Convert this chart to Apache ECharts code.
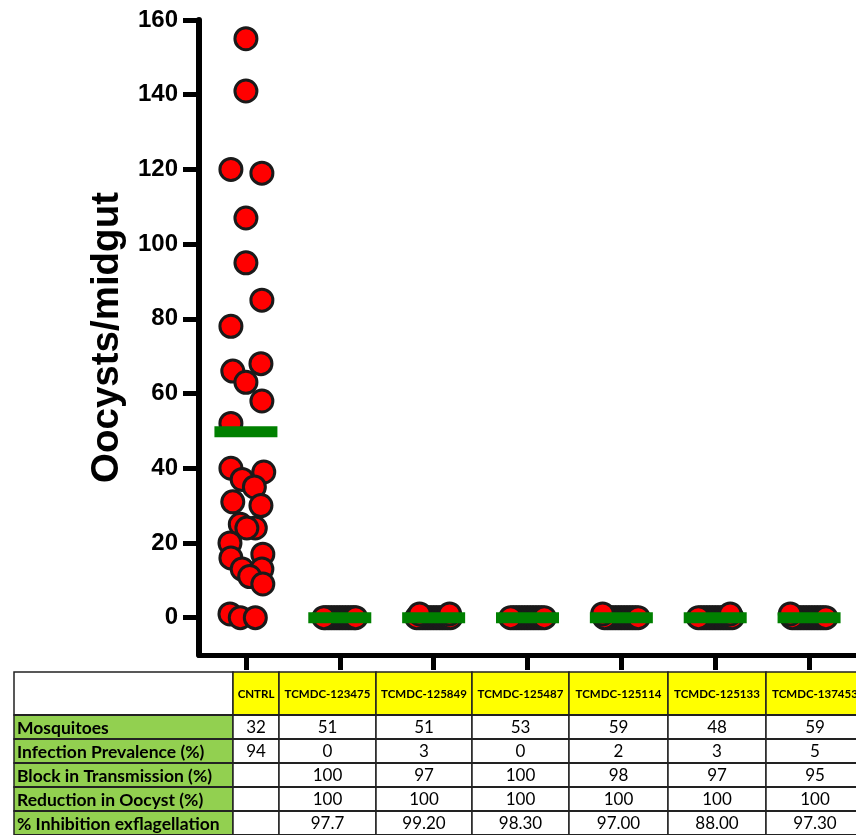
<!DOCTYPE html>
<html>
<head>
<meta charset="utf-8">
<script src="https://cdn.jsdelivr.net/npm/echarts@6/dist/echarts.min.js"></script>
<style>
html,body{margin:0;padding:0;background:#fff;}
#chart{width:856px;height:835px;}
</style>
</head>
<body>
<div id="chart"></div>
<script>
// ---------- DATA ----------
const categories = ['CNTRL','TCMDC-123475','TCMDC-125849','TCMDC-125487','TCMDC-125114','TCMDC-125133','TCMDC-137453'];
const yTicks = [0,20,40,60,80,100,120,140,160];

const cntrlOocysts = [155,141,120,119,107,95,85,78,68,66,63,58,52,40,39,37,35,31,30,25,24,24,20,17,16,13,13,11,9,1,0,0];
const cntrlSpread  = [0,0,-0.16,0.17,0,0,0.17,-0.16,0.16,-0.14,0,0.17,-0.16,-0.16,0.19,-0.04,0.09,-0.14,0.16,-0.06,0.1,0.01,-0.17,0.18,-0.16,-0.04,0.17,0.04,0.18,-0.17,-0.06,0.1];

const oocysts123475 = [0,0,0,0,0,0,0,0,0,0,0,0,0];
const spread123475  = [0,-0.03,0.03,-0.06,0.06,-0.09,0.09,-0.12,0.12,-0.15,0.15,-0.17,0.17];
const oocysts125849 = [0,0,0,0,0,0,0,0,0,0,0,0,0,1,1];
const spread125849  = [0,-0.03,0.03,-0.06,0.06,-0.09,0.09,-0.12,0.12,-0.15,0.15,-0.18,0.18,-0.15,0.17];
const oocysts125487 = [0,0,0,0,0,0,0,0,0,0,0,0,0];
const spread125487  = [0,-0.03,0.03,-0.06,0.06,-0.09,0.09,-0.12,0.12,-0.15,0.15,-0.18,0.18];
const oocysts125114 = [0,0,0,0,0,0,0,0,0,0,0,0,0,1];
const spread125114  = [0,-0.03,0.03,-0.06,0.06,-0.09,0.09,-0.12,0.12,-0.15,0.15,-0.18,0.18,-0.2];
const oocysts125133 = [0,0,0,0,0,0,0,0,0,0,0,0,0,1];
const spread125133  = [0,-0.03,0.03,-0.06,0.06,-0.09,0.09,-0.12,0.12,-0.15,0.15,-0.18,0.18,0.16];
const oocysts137453 = [0,0,0,0,0,0,0,0,0,0,0,0,0,1];
const spread137453  = [0,-0.03,0.03,-0.06,0.06,-0.09,0.09,-0.12,0.12,-0.15,0.15,-0.18,0.18,-0.2];

const meanOocysts = [49.8,0,0,0,0,0,0];

const rowLabels = ['Mosquitoes','Infection Prevalence (%)','Block in Transmission (%)','Reduction in Oocyst (%)','% Inhibition exflagellation'];
const mosquitoes        = ['32','51','51','53','59','48','59'];
const prevalence        = ['94','0','3','0','2','3','5'];
const blockTransmission = ['','100','97','100','98','97','95'];
const oocystReduction   = ['','100','100','100','100','100','100'];
const exflagInhibition  = ['','97.7','99.20','98.30','97.00','88.00','97.30'];

// ---------- BUILD ----------
const groupValues = [cntrlOocysts, oocysts123475, oocysts125849, oocysts125487, oocysts125114, oocysts125133, oocysts137453];
const groupSpread = [cntrlSpread, spread123475, spread125849, spread125487, spread125114, spread125133, spread137453];
const pointData = [];
groupValues.forEach((vals, gi) => {
  vals.forEach((v, i) => pointData.push([gi + groupSpread[gi][i], v]));
});

const tableRows = [mosquitoes, prevalence, blockTransmission, oocystReduction, exflagInhibition];

// table layout
const colEdges = [14, 233, 279, 376, 472, 569, 668, 766, 864];
const headerTop = 672, headerH = 43, rowH = 24;
const FONT = 'Lato, "Open Sans", sans-serif';
const graphics = [];
graphics.push({type:'rect', shape:{x:colEdges[0], y:headerTop, width:colEdges[1]-colEdges[0], height:headerH}, style:{fill:'#fff', stroke:'#222', lineWidth:1.5}});
categories.forEach((c, i) => {
  const x0 = colEdges[i+1], x1 = colEdges[i+2];
  graphics.push({type:'rect', shape:{x:x0, y:headerTop, width:x1-x0, height:headerH}, style:{fill:'#ffff00', stroke:'#222', lineWidth:1.5}});
  graphics.push({type:'text', style:{text:c, x:(x0+x1)/2, y:headerTop+headerH/2+1, fill:'#000', font:'bold 11.5px '+FONT, textAlign:'center', verticalAlign:'middle'}});
});
tableRows.forEach((row, r) => {
  const y0 = headerTop + headerH + r*rowH;
  graphics.push({type:'rect', shape:{x:colEdges[0], y:y0, width:colEdges[1]-colEdges[0], height:rowH}, style:{fill:'#92d050', stroke:'#222', lineWidth:1.5}});
  graphics.push({type:'text', style:{text:rowLabels[r], x:colEdges[0]+3, y:y0+rowH/2+1, fill:'#000', font:'bold 17.5px '+FONT, textAlign:'left', verticalAlign:'middle'}});
  row.forEach((val, i) => {
    const x0 = colEdges[i+1], x1 = colEdges[i+2];
    graphics.push({type:'rect', shape:{x:x0, y:y0, width:x1-x0, height:rowH}, style:{fill:'#fff', stroke:'#222', lineWidth:1.5}});
    if (val !== '') graphics.push({type:'text', style:{text:val, x:(x0+x1)/2, y:y0+rowH/2+1, fill:'#000', font:'17px '+FONT, textAlign:'center', verticalAlign:'middle'}});
  });
});
// heavier horizontal row separators
for (let r = 0; r <= tableRows.length; r++) {
  const y = headerTop + headerH + r*rowH;
  graphics.push({type:'line', shape:{x1:colEdges[0], y1:y, x2:colEdges[colEdges.length-1], y2:y}, style:{stroke:'#222', lineWidth:2}});
}

const chart = echarts.init(document.getElementById('chart'));
chart.setOption({
  backgroundColor:'#fff',
  animation:false,
  grid:{left:199, top:20, width:657, height:635},
  xAxis:[
    {type:'category', data:categories, boundaryGap:true,
     axisLine:{onZero:false, lineStyle:{color:'#000', width:5}},
     axisTick:{show:true, alignWithLabel:true, interval:0, length:15, lineStyle:{color:'#000', width:5}},
     axisLabel:{show:false}, splitLine:{show:false}},
    {type:'value', min:-0.5, max:6.5, show:false, axisLine:{onZero:false}}
  ],
  yAxis:{
    type:'value', min:-10, max:160,
    name:'Oocysts/midgut', nameLocation:'middle', nameGap:64, nameRotate:90,
    nameTextStyle:{fontFamily:'Liberation Sans, Arial', fontWeight:'bold', fontSize:38.5, color:'#000'},
    axisLine:{show:true, onZero:false, lineStyle:{color:'#000', width:6}},
    axisTick:{show:true, length:16, customValues:yTicks, lineStyle:{color:'#000', width:5}},
    axisLabel:{customValues:yTicks, margin:21, fontFamily:'Liberation Sans, Arial', fontWeight:'bold', fontSize:24, color:'#000'},
    splitLine:{show:false}
  },
  series:[
    {type:'scatter', xAxisIndex:1, data:pointData, symbol:'circle', symbolSize:22,
     itemStyle:{color:'#ff0000', borderColor:'#1a1a1a', borderWidth:3, opacity:1}, z:2},
    {type:'scatter', xAxisIndex:0, data:meanOocysts, symbol:'rect', symbolSize:[63,11],
     itemStyle:{color:'#008000', opacity:1}, z:5}
  ],
  graphic:graphics
});
</script>
</body>
</html>
